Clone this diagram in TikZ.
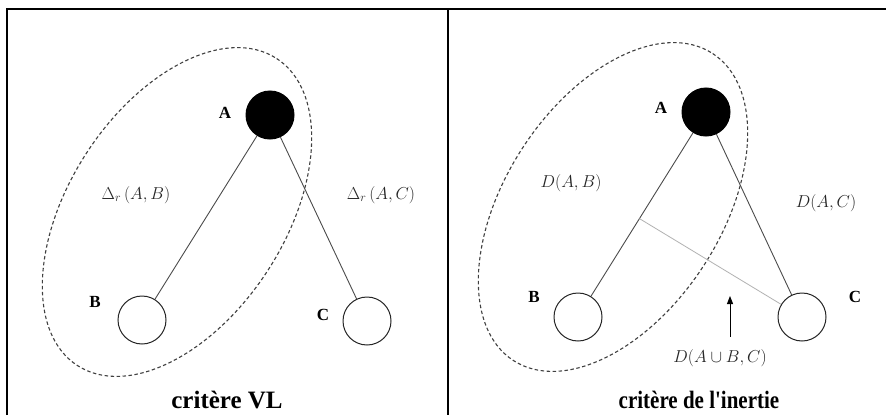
\documentclass[tikz,border=0pt]{standalone}
\usepackage{fontspec}
\usepackage{graphicx}
\setmainfont{Liberation Serif}
\usetikzlibrary{calc,arrows.meta}
\begin{document}
\begin{tikzpicture}[x=1pt,y=-1pt,
  vertex/.style={circle,draw=black!85,line width=1pt,minimum size=48pt,inner sep=0pt},
  filledvertex/.style={vertex,fill=black,draw=black},
  vlabel/.style={font=\fontsize{17}{20}\selectfont\bfseries},
  mlabel/.style={font=\fontsize{18}{21}\selectfont,text=black!85},
  title/.style={font=\fontsize{25}{28}\selectfont\bfseries,anchor=base},
  edge/.style={draw=black!70,line width=0.9pt},
  grayedge/.style={draw=black!30,line width=0.8pt},
  group/.style={draw=black!75,dash pattern=on 3.5pt off 2.5pt,line width=1.1pt},
  frame/.style={draw=black,line width=1.6pt}]
\useasboundingbox (0,0) rectangle (886,415);
\fill[white] (0,0) rectangle (886,415);
% frame
\coordinate (tl) at (7,9);
\coordinate (tr) at (886,9);
\coordinate (bl) at (7,415);
\coordinate (mt) at (448,9);
\coordinate (mb) at (448,415);
\draw[frame] (bl) -- (tl) -- (tr);
\draw[frame] (mt) -- (mb);

% ---------- left panel ----------
\draw[group,rotate around={57:(177,212)}] (177,212) ellipse (183 and 108);
\node[filledvertex] (A1) at (270,115) {};
\node[vertex] (B1) at (142,320) {};
\node[vertex] (C1) at (367,321) {};
\node[vlabel] (la1) at (225,113) {A};
\node[vlabel] (lb1) at (95,302) {B};
\node[vlabel] (lc1) at (323,315) {C};
\draw[edge] (A1) -- (B1);
\draw[edge] (A1) -- (C1);
\node[mlabel] (d1) at (136,195) {$\Delta_r\,(A,B)$};
\node[mlabel] (d2) at (381,195) {$\Delta_r\,(A,C)$};
\node[title] (t1) at (227,408) {critère VL};

% ---------- right panel ----------
\draw[group,rotate around={57:(613,207)}] (613,207) ellipse (183 and 108);
\node[filledvertex] (A2) at (706,112) {};
\node[vertex] (B2) at (578,317) {};
\node[vertex] (C2) at (802,317) {};
\node[vlabel] (la2) at (661,108) {A};
\node[vlabel] (lb2) at (534,297) {B};
\node[vlabel] (lc2) at (855,297) {C};
\draw[edge] (A2) -- (B2);
\draw[edge] (A2) -- (C2);
\coordinate (mid) at ($(A2)!0.52!(B2)$);
\draw[grayedge] (mid) -- (C2);
\node[mlabel] (d3) at (571,183) {$D(A,B)$};
\node[mlabel] (d4) at (826,203) {$D(A,C)$};
\node[mlabel] (d5) at (720,358) {$D(A\cup B,C)$};
\coordinate (arrtip) at (730,296);
\draw[black,line width=1pt,-{Triangle[length=8pt,width=6pt]}] (d5.north -| arrtip) ++(0,-9) -- (arrtip);
\node[title] (t2) at (699,408) {\scalebox{0.84}[1]{critère de l\textquotesingle inertie}};
\end{tikzpicture}
\end{document}
